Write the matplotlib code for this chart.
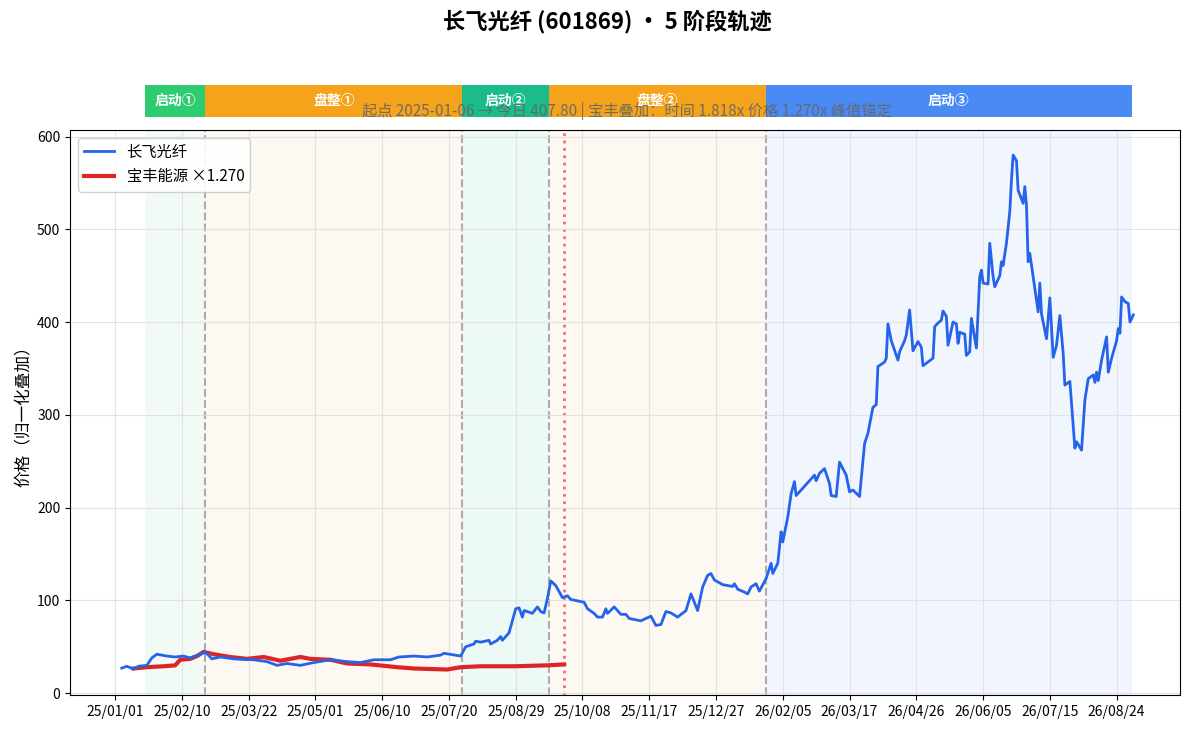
import numpy as np
import matplotlib
matplotlib.use("Agg")
import matplotlib.pyplot as plt
import matplotlib.dates as mdates

plt.rcParams['font.family'] = ['Noto Sans CJK SC', 'DejaVu Sans']
plt.rcParams['axes.unicode_minus'] = False

BASE = np.datetime64('2025-01-01')
# day offsets from 2025-01-01
blue_days = [4,7,11,14,19,22,25,31,36,41,45,50,54,58,63,71,83,91,97,103,111,119,129,139,147,155,165,170,179,187,195,197,207,
             210,215,216,219,224,225,229,231,232,236,240,242,244,245,247,250,253,255,257,259,261,264,268,271,273,281,283,287,289,
             292,294,295,299,303,306,308,315,321,324,327,330,333,337,342,345,349,352,355,357,359,364,370,371,373,377,379,381,384,
             386,390,393,394,397,399,400,403,405,407,408,419,420,422,425,428,429,432,434,438,440,442,446,449,451,454,456,457,461,
             462,463,465,469,470,473,474,476,478,481,483,484,490,491,493,495,496,498,499,502,504,505,506,509,510,512,513,516,518,
             519,520,523,524,526,527,530,531,532,534,536,537,538,540,541,544,545,546,547,548,553,554,555,558,560,562,564,566,568,
             569,572,575,576,579,581,583,586,587,588,589,591,594,595,597,600,601,602,603,605,607,608,610]
blue_vals = [27,29,26,29,30,38,42,40,39,40,38,41,44.5,37,39,37,36,34,30,32,30,33,36,34,33,36,36,39,40,39,41,43,40,
             50,53,56,55,57,53,57,61,57,65,91,92,82,89,88,86,93,88,86.5,102,121,116,103,105,101,98,91,86,82,
             82,91,86,93,85,85,80.5,78,83,73,74,88,86.5,82,89,107,89,114.5,127,129,122,117,115,118,112,109,107,114.5,118,
             110,123.5,140,129,140,174,163,190,215,228,213,235,229,237,242,226,213,212,249,235,217,219,212,269,280,308,311,352,357,
             361,398,380,359,368,380,386,413,369,379,373,353,361,395,399,402,412,406,375,400,398,377,389,387,364,368,404,372,449,
             456,442,441,485,449,438,450,465,461,485,519,553,580,574,542,528,546,526,465,474,411,442,409,382,426,362,375,407,366,
             332,336,264,271,262,316,339,343,335,346,337,359,384,346,361,380,393,388,427,422,420,400,407.8]
red_days = [11,19,29,36,39,45,49,53,59,69,79,89,99,111,117,129,139,153,169,179,199,207,219,239,259,269]
red_vals = [26.6,28,29,30,36,37,40,44.5,42,39,37,39,35,39,37,36,32,31,28,26.6,25.5,28,29,29,30,31]

phase_names = ['启动①', '盘整①', '启动②', '盘整②', '启动③']
phase_bounds = [18, 54, 208, 260, 390, 609]
phase_colors = ['#2ecc71', '#f5a31a', '#1abc8c', '#f5a31a', '#4a8af4']
phase_bg = ['#eef9f2', '#fdf7ee', '#e9f8f2', '#fdf7ee', '#eef4fe']
today_day = 269
xlim_days = [-27, 638]
tick_days = list(range(0, 601, 40))

def d(x):
    return (BASE + np.array(x, dtype='int64').astype('timedelta64[D]')).astype(object)

fig = plt.figure(figsize=(11.91, 7.33), dpi=100)
ax = fig.add_axes([0.0588, 0.0518, 0.932, 0.7708])
bx = fig.add_axes([0.0588, 0.840, 0.932, 0.044], sharex=ax)

for i, name in enumerate(phase_names):
    a, b = d([phase_bounds[i], phase_bounds[i+1]])
    ax.axvspan(a, b, color=phase_bg[i], alpha=0.8, zorder=0, lw=0)
    bx.axvspan(a, b, color=phase_colors[i], lw=0)
    mid = d([(phase_bounds[i] + phase_bounds[i+1]) // 2])[0]
    bx.text(mid, 0.5, name, ha='center', va='center', color='white', fontsize=10, fontweight='bold')
for bd in phase_bounds[1:-1]:
    ax.axvline(d([bd])[0], color='#999999', ls='--', lw=1.5, alpha=0.8, zorder=1)
ax.axvline(d([today_day])[0], color='#f07070', ls=':', lw=2, zorder=1)

ax.plot(d(blue_days), blue_vals, color='#2563eb', lw=2, label='长飞光纤', zorder=3)
ax.plot(d(red_days), red_vals, color='#dc2626', lw=3, label='宝丰能源 ×1.270', zorder=2)

ax.set_xlim(d(xlim_days))
ax.set_ylim(-2, 607)
ax.set_xticks(d(tick_days))
ax.xaxis.set_major_formatter(mdates.DateFormatter('%y/%m/%d'))
ax.set_yticks(range(0, 601, 100))
ax.tick_params(labelsize=10)
ax.grid(True, color='#dddddd', lw=0.8, alpha=0.8)
ax.set_ylabel('价格（归一化叠加）', fontsize=12)
ax.legend(loc='upper left', fontsize=11, framealpha=0.9)

bx.set_ylim(0, 1)
bx.axis('off')

fig.text(0.51, 0.97, '长飞光纤 (601869) • 5 阶段轨迹', ha='center', va='center', fontsize=16, fontweight='bold')
fig.text(0.526, 0.848, '起点 2025-01-06 → 今日 407.80 | 宝丰叠加：时间 1.818x 价格 1.270x 峰值锚定',
         ha='center', va='center', fontsize=11, color='#666666', alpha=0.9)

fig.savefig('out.png', dpi=100)
